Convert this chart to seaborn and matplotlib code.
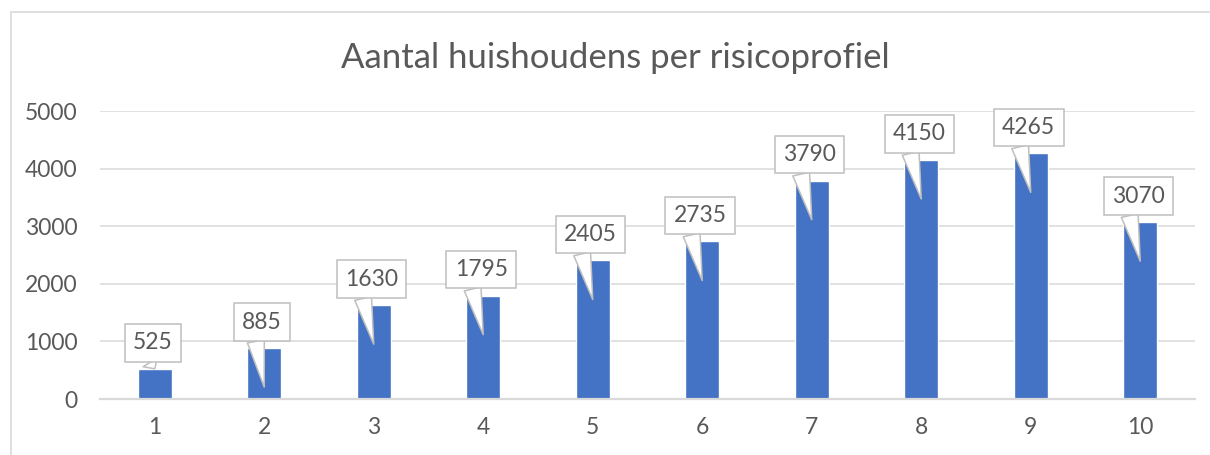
import numpy as np
import pandas as pd
import seaborn as sns
import matplotlib
matplotlib.use("Agg")
import matplotlib.pyplot as plt
from matplotlib.patches import Rectangle
from matplotlib.transforms import ScaledTranslation

# data
profielen = ["1", "2", "3", "4", "5", "6", "7", "8", "9", "10"]
aantallen = [525, 885, 1630, 1795, 2405, 2735, 3790, 4150, 4265, 3070]
titel = "Aantal huishoudens per risicoprofiel"
y_ticks = [0, 1000, 2000, 3000, 4000, 5000]

sns.set_style("white")
plt.rcParams['font.family'] = ['Lato', 'DejaVu Sans']

tekst_kleur = "#595959"
balk_kleur = "#4472C4"
grid_kleur = "#D9D9D9"
rand_kleur = "#BFBFBF"

df = pd.DataFrame({"profiel": profielen, "aantal": aantallen})

fig = plt.figure(figsize=(12.1, 4.55), dpi=100)
ax = fig.add_axes([0.0826, 0.123, 0.905, 0.633])

sns.barplot(data=df, x="profiel", y="aantal", color=balk_kleur, saturation=1,
            width=0.31, ax=ax, zorder=3)

ax.set_ylim(0, 5000)
ax.set_xlim(-0.5, len(profielen) - 0.5)
ax.set_yticks(y_ticks)
ax.set_xlabel("")
ax.set_ylabel("")
for s in ["top", "right", "left"]:
    ax.spines[s].set_visible(False)
ax.spines["bottom"].set_color(grid_kleur)
ax.spines["bottom"].set_linewidth(1.6)
ax.spines["bottom"].set_zorder(4)
ax.yaxis.grid(True, color=grid_kleur, linewidth=1.1, zorder=0)
ax.tick_params(axis="both", length=0, labelsize=16.5, labelcolor=tekst_kleur)
ax.tick_params(axis="x", pad=13)
ax.tick_params(axis="y", pad=16)

# callouts
px = 72 / fig.dpi
tip_trans = ax.transData + ScaledTranslation(0, -39 / fig.dpi, fig.dpi_scale_trans)
for i, v in enumerate(aantallen):
    if v < 700:
        xy, xyc, off = (i, v), "data", 26 * px
    else:
        xy, xyc, off = (i, v), tip_trans, (26 + 39) * px
    ax.annotate(str(v), xy=xy, xycoords=xyc, xytext=(-2 * px, off),
                textcoords="offset points", ha="center", va="center",
                fontsize=16.5, color=tekst_kleur, zorder=5, annotation_clip=False,
                bbox=dict(boxstyle="square,pad=0.36", fc="white", ec=rand_kleur, lw=1.1),
                arrowprops=dict(arrowstyle="wedge,tail_width=0.75", fc="white",
                                ec=rand_kleur, lw=1.1, shrinkA=0, shrinkB=0,
                                relpos=(0.3, 0.0)))

fig.text(0.5087, 0.8725, titel, ha="center", va="center", fontsize=25, color=tekst_kleur)

fig.add_artist(Rectangle((11 / 1210, -0.05), 1.1, 1 - 12 / 455 + 0.05,
                         transform=fig.transFigure, fill=False, ec=grid_kleur, lw=1.2))

fig.savefig("out.png", dpi=100)
